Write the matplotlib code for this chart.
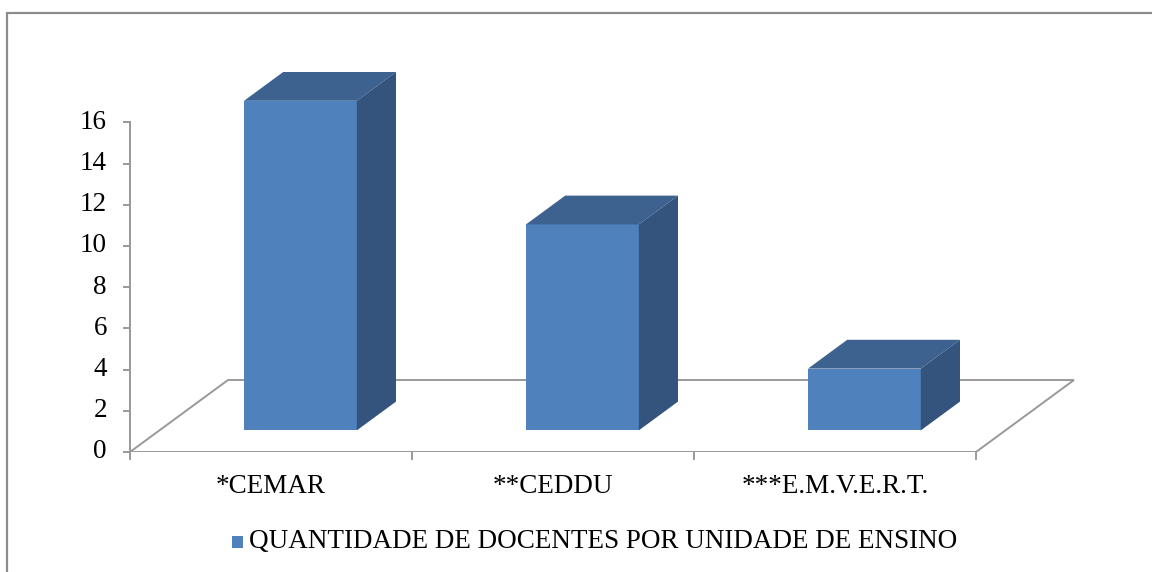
import matplotlib

matplotlib.use("Agg")
import matplotlib.pyplot as plt
from matplotlib.patches import Polygon, Rectangle

categories = ["*CEMAR", "**CEDDU", "***E.M.V.E.R.T."]
values = [16, 10, 3]
yticks = [0, 2, 4, 6, 8, 10, 12, 14, 16]
legend_label = "QUANTIDADE DE DOCENTES POR UNIDADE DE ENSINO"

FRONT = "#4F81BD"
TOP = "#3D6290"
SIDE = "#34547E"
GRID = "#999999"
FS = 19.5

plt.rcParams["font.family"] = ["Liberation Serif", "DejaVu Serif"]

W, H = 1152, 572
fig = plt.figure(figsize=(W / 100, H / 100), dpi=100)

# plot area in pixels: x 130..1090, y 60..452
px_left, px_right, px_top, px_bottom = 130, 1090, 60, 452
ax = fig.add_axes([px_left / W, 1 - px_bottom / H,
                   (px_right - px_left) / W, (px_bottom - px_top) / H])
cat_px = 282.0   # pixels per category
val_px = 20.6    # pixels per unit
ax.set_xlim(0, (px_right - px_left) / cat_px)
ax.set_ylim(0, (px_bottom - px_top) / val_px)
ax.axis("off")

# floor depth (oblique projection)
ddx = 98 / cat_px
ddy = 72 / val_px
n = len(categories)

floor = Polygon([(0, 0), (n, 0), (n + ddx, ddy), (ddx, ddy)], closed=True,
                fill=False, edgecolor=GRID, linewidth=1.4, zorder=1)
ax.add_patch(floor)

# value axis at front-left
ax.plot([0, 0], [0, yticks[-1]], color=GRID, lw=1.4, zorder=2, clip_on=False)
tick_len_x = 6 / cat_px
for t in yticks:
    ax.plot([-tick_len_x, 0], [t, t], color=GRID, lw=1.4, clip_on=False)
    ax.text(-23 / cat_px, t, str(t), ha="right", va="center", fontsize=FS)

# category ticks
tick_len_y = 7 / val_px
for i in range(n + 1):
    ax.plot([i, i], [0, -tick_len_y], color=GRID, lw=1.4, clip_on=False)
for i, lab in enumerate(categories):
    ax.text(i + 0.5, -22 / val_px, lab, ha="center", va="top", fontsize=FS)

# 3D bars
d0, d1 = 0.30, 0.70
bw = 0.40
for i, v in enumerate(values):
    x0 = i + 0.5 - bw / 2 + d0 * ddx
    b = d0 * ddy
    bdx = (d1 - d0) * ddx
    bdy = (d1 - d0) * ddy
    ax.bar(x0, v, width=bw, bottom=b, align="edge", color=FRONT,
           edgecolor="none", zorder=3)
    x1 = x0 + bw
    ax.add_patch(Polygon([(x0, b + v), (x1, b + v), (x1 + bdx, b + v + bdy),
                          (x0 + bdx, b + v + bdy)], closed=True,
                         facecolor=TOP, edgecolor="none", zorder=3))
    ax.add_patch(Polygon([(x1, b), (x1, b + v), (x1 + bdx, b + v + bdy),
                          (x1 + bdx, b + bdy)], closed=True,
                         facecolor=SIDE, edgecolor="none", zorder=3))

# legend
fig.patches.append(Rectangle((232 / W, 1 - 548 / H), 11 / W, 12 / H,
                             transform=fig.transFigure, facecolor=FRONT,
                             edgecolor="none"))
fig.text(249 / W, 1 - 542 / H, legend_label, ha="left", va="center",
         fontsize=FS)

# outer chart border
fig.patches.append(Rectangle((7 / W, -0.05), 1.2, 1 - 13 / H + 0.05,
                             transform=fig.transFigure, fill=False,
                             edgecolor="#8c8c8c", linewidth=1.6))

fig.savefig("out.png", dpi=100)
